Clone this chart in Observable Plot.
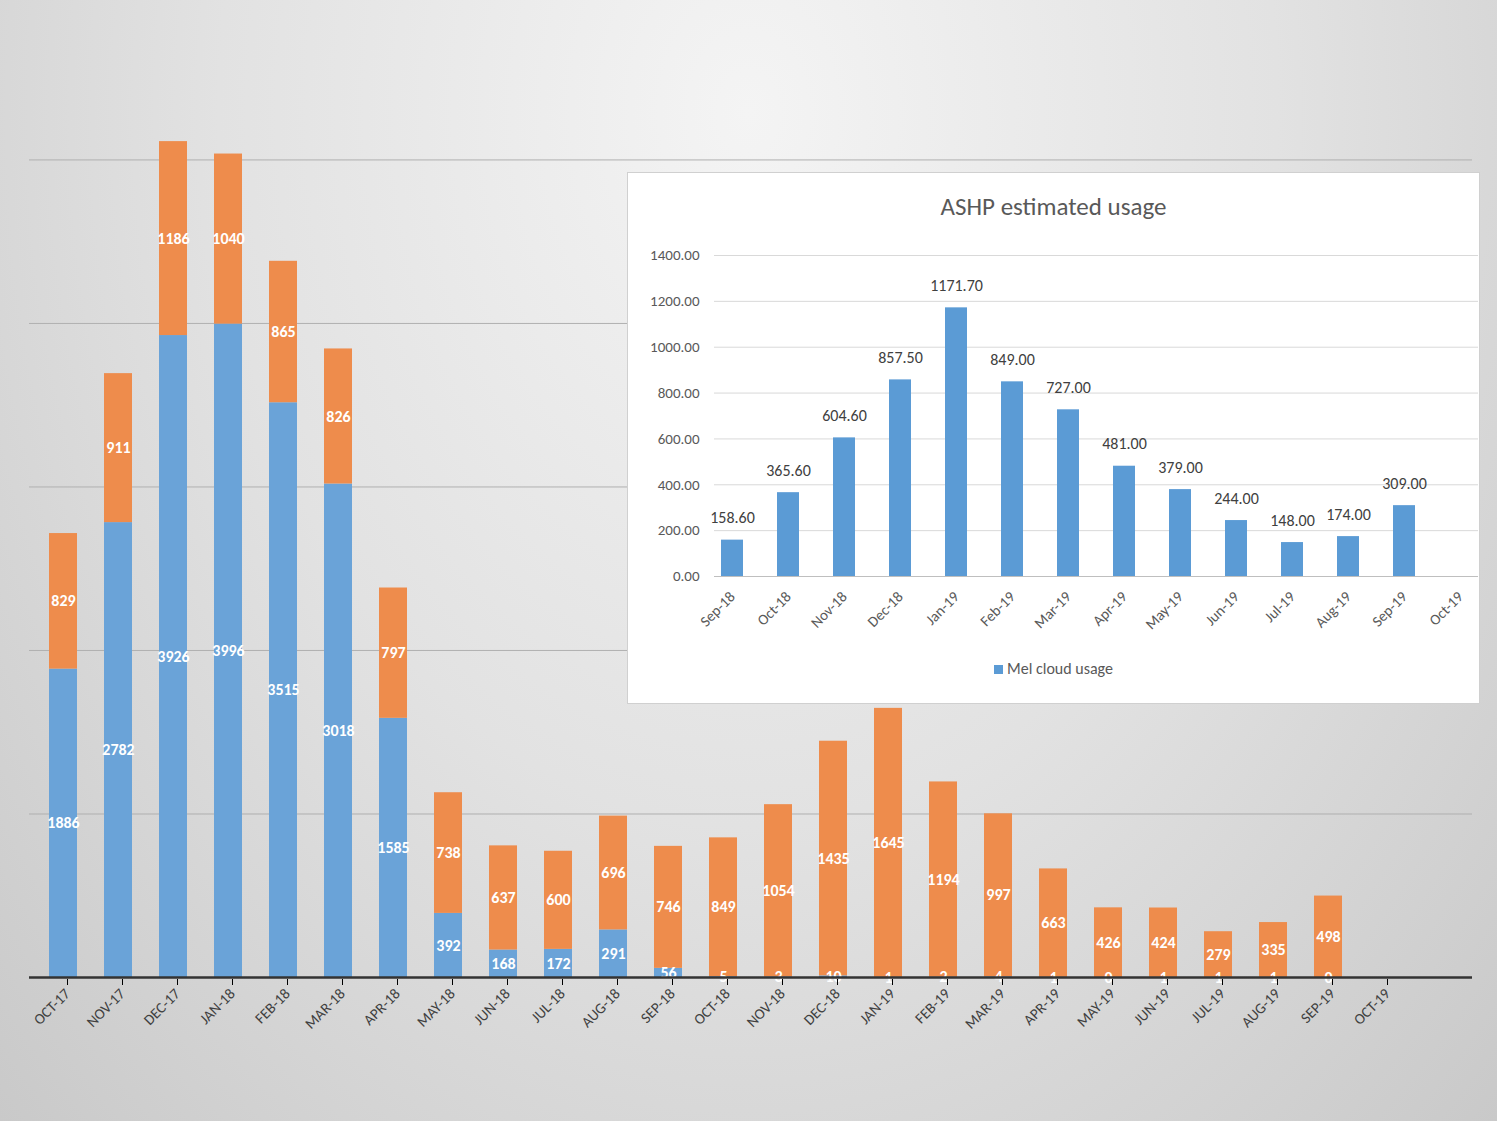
<!DOCTYPE html>
<html><head><meta charset="utf-8">
<script src="https://cdn.jsdelivr.net/npm/d3@7"></script>
<script src="https://cdn.jsdelivr.net/npm/@observablehq/plot@0.6"></script>
<style>
body{margin:0;width:1497px;height:1121px;overflow:hidden;background:radial-gradient(ellipse at 50% 10%,#f4f4f4 0%,#e2e2e2 50%,#c9c9c9 100%);font-family:Calibri,Carlito,"Liberation Sans",sans-serif;}
#main{position:absolute;left:0;top:0}
#inset{position:absolute;left:627px;top:172px;width:851px;height:530px;background:#fff;border:1px solid #d0d0d0}
#title{position:absolute;left:0;width:851px;top:18px;text-align:center;font-size:25px;color:#595959}
#plot2{position:absolute;left:0;top:58px}
#legend{position:absolute;left:0;width:851px;top:486px;text-align:center;font-size:16px;color:#595959}
#legend span{display:inline-block;width:9px;height:9px;background:#5b9bd5;margin-right:4px}
</style></head><body>
<div id="main"></div>
<div id="inset"><div id="title">ASHP estimated usage</div><div id="plot2"></div><div id="legend"><span></span>Mel cloud usage</div></div>
<script>
const months = ["OCT-17","NOV-17","DEC-17","JAN-18","FEB-18","MAR-18","APR-18","MAY-18","JUN-18","JUL-18","AUG-18","SEP-18","OCT-18","NOV-18","DEC-18","JAN-19","FEB-19","MAR-19","APR-19","MAY-19","JUN-19","JUL-19","AUG-19","SEP-19","OCT-19"];
const blue = [1886,2782,3926,3996,3515,3018,1585,392,168,172,291,56,5,3,10,1,2,4,1,0,1,1,1,0];
const orange = [829,911,1186,1040,865,826,797,738,637,600,696,746,849,1054,1435,1645,1194,997,663,426,424,279,335,498];
const gridVals = [1000,2000,3000,4000,5000];

const insetMonths = ["Sep-18","Oct-18","Nov-18","Dec-18","Jan-19","Feb-19","Mar-19","Apr-19","May-19","Jun-19","Jul-19","Aug-19","Sep-19","Oct-19"];
const insetVals = [158.6,365.6,604.6,857.5,1171.7,849,727,481,379,244,148,174,309];
const insetTicks = [0,200,400,600,800,1000,1200,1400];

const COLORS = {blue:"#6aa3d8", orange:"#ee8c4c"};
const rows = [];
blue.forEach((v,i)=>{
  rows.push({m:months[i],s:"blue",v,y1:0,y2:v});
  rows.push({m:months[i],s:"orange",v:orange[i],y1:v,y2:v+orange[i]});
});

const main = Plot.plot({
  width:1497,height:1121,marginTop:0,marginBottom:144,marginLeft:29,marginRight:25,
  style:{background:"transparent",overflow:"visible"},
  x:{domain:months,range:[29,1417],paddingInner:0.5,paddingOuter:0.25,label:null},
  y:{domain:[0,5975],axis:null},
  marks:[
    Plot.ruleY(gridVals,{stroke:"#b0b0b0",strokeWidth:1}),
    Plot.rectY(rows,{x:"m",y1:"y1",y2:"y2",fill:d=>COLORS[d.s]}),
    Plot.text(rows,{x:"m",y:d=>(d.y1+d.y2)/2,text:d=>String(d.v),fill:"white",fontWeight:"bold",fontSize:16,fontFamily:"Calibri,Carlito,'Liberation Sans',sans-serif"}),
    Plot.ruleY([0],{stroke:"#333",strokeWidth:2.5}),
    Plot.axisX({tickRotate:-45,tickSize:6,fontSize:15,fill:"#404040",textAnchor:"end",dx:4,dy:2,fontFamily:"Calibri,Carlito,'Liberation Sans',sans-serif"})
  ]
});
document.getElementById("main").append(main);

const insetData = insetMonths.slice(0,insetVals.length).map((m,i)=>({m,v:insetVals[i]}));
const inset = Plot.plot({
  width:851,height:420,marginTop:24,marginBottom:75,marginLeft:86,marginRight:1,
  style:{background:"transparent",overflow:"visible",fontFamily:"Calibri,Carlito,'Liberation Sans',sans-serif"},
  x:{domain:insetMonths,paddingInner:0.6,paddingOuter:0.05,label:null},
  y:{domain:[0,1400],label:null},
  marks:[
    Plot.ruleY(insetTicks,{stroke:"#d9d9d9"}),
    Plot.axisY({ticks:insetTicks,tickFormat:d=>d.toFixed(2),tickSize:0,fontSize:15,fill:"#595959",dx:-6}),
    Plot.barY(insetData,{x:"m",y:"v",fill:"#5b9bd5"}),
    Plot.text(insetData,{x:"m",y:"v",text:d=>d.v.toFixed(2),dy:-22,fontSize:16,fill:"#404040"}),
    Plot.ruleY([0],{stroke:"#bfbfbf"}),
    Plot.axisX({tickRotate:-45,tickSize:0,fontSize:15,fill:"#595959",textAnchor:"end",dy:6})
  ]
});
document.getElementById("plot2").append(inset);
</script></body></html>
